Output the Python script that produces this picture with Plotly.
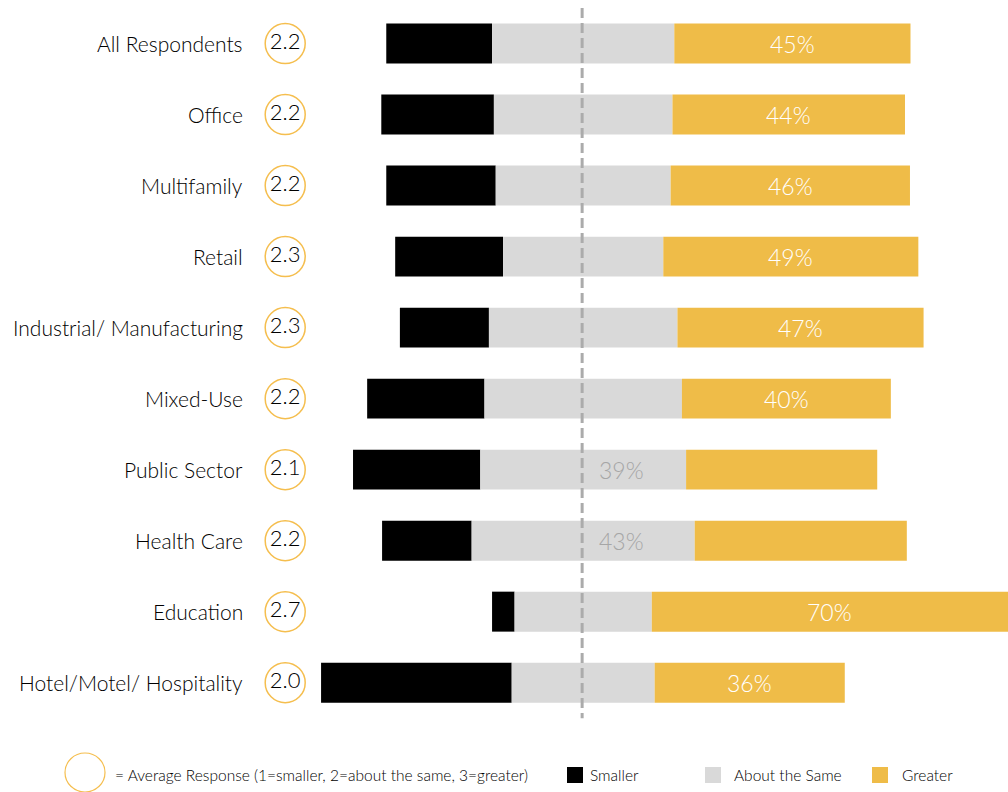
import plotly.graph_objects as go

categories = ["All Respondents", "Office", "Multifamily", "Retail",
              "Industrial/ Manufacturing", "Mixed-Use", "Public Sector",
              "Health Care", "Education", "Hotel/Motel/ Hospitality"]
smaller = [20.2, 21.5, 20.9, 20.6, 17.0, 22.4, 24.3, 17.1, 4.3, 36.4]
same = [34.8, 34.1, 33.4, 30.6, 36.0, 37.7, 39.3, 42.6, 26.2, 27.3]
greater = [45.1, 44.4, 45.7, 48.7, 47.0, 39.9, 36.5, 40.5, 69.5, 36.3]
avg_response = [2.2, 2.2, 2.2, 2.3, 2.3, 2.2, 2.1, 2.2, 2.7, 2.0]

legend_labels = ["Smaller", "About the Same", "Greater"]

C_SMALL = "#000000"
C_SAME = "#D9D9D9"
C_GREAT = "#EFBC48"
C_RING = "#F5BE4E"
FONT = "Lato"
WT = 300

W, H = 1008, 792
X_MIN, X_MAX = -111.36, 81.12
Y_TOP, Y_BOT = -0.614, 10.54

fig = go.Figure()

fig.add_trace(go.Bar(
    y=categories, x=smaller,
    base=[-(s + m / 2) for s, m in zip(smaller, same)],
    orientation="h", marker=dict(color=C_SMALL, line=dict(width=0)),
    width=0.563, name="Smaller", hoverinfo="skip"))
fig.add_trace(go.Bar(
    y=categories, x=same,
    base=[-m / 2 for m in same],
    orientation="h", marker=dict(color=C_SAME, line=dict(width=0)),
    width=0.563, name="About the Same", hoverinfo="skip"))
fig.add_trace(go.Bar(
    y=categories, x=greater,
    base=[m / 2 for m in same],
    orientation="h", marker=dict(color=C_GREAT, line=dict(width=0)),
    width=0.563, name="Greater", hoverinfo="skip"))

# average response circles
CIRCLE_X = -56.9
fig.add_trace(go.Scatter(
    y=categories, x=[CIRCLE_X] * len(categories),
    mode="markers+text",
    marker=dict(size=40, color="white", line=dict(color=C_RING, width=1.5)),
    text=[f"{v:.1f}" for v in avg_response],
    textposition="middle center",
    textfont=dict(family=FONT, size=22, color="#000000", weight=WT),
    hoverinfo="skip", cliponaxis=False))

annotations = []
# category labels
for c in categories:
    annotations.append(dict(x=-64.6, y=c, xref="x", yref="y", text=c,
                            showarrow=False, xanchor="right", yanchor="middle",
                            font=dict(family=FONT, size=21, color="#000000", weight=WT)))

# percentage labels
for c, m, g in zip(categories, same, greater):
    if m > g:
        annotations.append(dict(x=7.3, y=c, xref="x", yref="y",
                                text=f"{round(m)}%", showarrow=False,
                                xanchor="center", yanchor="middle",
                                font=dict(family=FONT, size=23, color="#A6A6A6", weight=WT)))
    else:
        start = m / 2
        end = min(m / 2 + g, X_MAX)
        annotations.append(dict(x=(start + end) / 2, y=c, xref="x", yref="y",
                                text=f"{round(g)}%", showarrow=False,
                                xanchor="center", yanchor="middle",
                                font=dict(family=FONT, size=23, color="white", weight=WT)))

shapes = [dict(type="line", xref="x", yref="y", x0=-0.2, x1=-0.2, y0=-0.5, y1=9.5,
               line=dict(color="#ABABAB", width=3, dash="10px,5px"), layer="above")]

# legend (paper coords from pixels)
def px(x):
    return x / W

def py(y):
    return 1 - y / H

shapes.append(dict(type="circle", xref="paper", yref="paper",
                   x0=px(65), x1=px(105), y0=py(753), y1=py(792),
                   line=dict(color=C_RING, width=1.2), fillcolor="white"))
annotations.append(dict(x=px(113), y=py(775), xref="paper", yref="paper",
                        text="= Average Response (1=smaller, 2=about the same, 3=greater)",
                        showarrow=False, xanchor="left", yanchor="middle",
                        font=dict(family=FONT, size=15.5, color="#000000", weight=WT)))
legend_items = [(567, 590, C_SMALL), (705, 734, C_SAME), (872, 902, C_GREAT)]
for (sx, tx, col), lab in zip(legend_items, legend_labels):
    shapes.append(dict(type="rect", xref="paper", yref="paper",
                       x0=px(sx), x1=px(sx + 16), y0=py(783), y1=py(767),
                       fillcolor=col, line=dict(width=0)))
    annotations.append(dict(x=px(tx - 2), y=py(775), xref="paper", yref="paper",
                            text=lab, showarrow=False, xanchor="left", yanchor="middle",
                            font=dict(family=FONT, size=15.5, color="#000000", weight=WT)))

fig.update_layout(
    width=W, height=H,
    margin=dict(l=0, r=0, t=0, b=0),
    paper_bgcolor="white", plot_bgcolor="white",
    barmode="overlay", showlegend=False,
    xaxis=dict(range=[X_MIN, X_MAX], visible=False, fixedrange=True),
    yaxis=dict(type="category", categoryarray=categories, categoryorder="array",
               range=[Y_BOT, Y_TOP], visible=False, fixedrange=True),
    annotations=annotations, shapes=shapes,
)

fig.write_html("out.html")
